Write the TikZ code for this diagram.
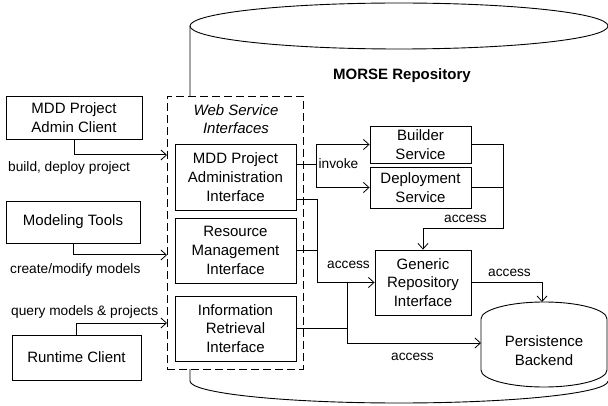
\documentclass[tikz,border=0pt]{standalone}
\usepackage{fontspec}
\setmainfont{Liberation Sans}
\usetikzlibrary{arrows.meta}
\begin{document}
\begin{tikzpicture}[x=1pt,y=-1pt,
  box/.style={draw,line width=0.9pt,fill=white,align=center,inner sep=0pt,font=\fontsize{15}{18.7}\selectfont},
  txt/.style={align=center,inner sep=0pt,font=\fontsize{15}{18.7}\selectfont},
  lbl/.style={anchor=base west,inner sep=0pt,font=\fontsize{13.7}{16}\selectfont},
  conn/.style={line width=1pt},
  arr/.style={conn,-{Straight Barb[length=5.5pt,width=10pt,line width=0.8pt]}},
  outline/.style={line width=0.9pt}
]
\useasboundingbox (0,0) rectangle (608,406);

% big repository cylinder
\draw[outline] (399,26) ellipse [x radius=209pt, y radius=23pt];
\draw[outline] (190,26) -- (190,381) arc[start angle=180,end angle=360,x radius=209pt,y radius=22pt];
\node[anchor=base,inner sep=0pt,font=\bfseries\fontsize{15}{18}\selectfont] (morse) at (402,79.3) {MORSE Repository};

% web service interfaces container
\node[draw,line width=0.9pt,dash pattern=on 8pt off 4pt,fill=white,minimum width=136pt,minimum height=273pt,inner sep=0pt] (wsi) at (235,232.5) {};
\node[txt,font=\itshape\fontsize{15}{18}\selectfont] (wsit) at (236,119.5) {Web Service\\Interfaces};

% clients
\node[box,minimum width=136pt,minimum height=43pt] (adminc) at (74,117.5) {MDD Project\\Admin Client};
\node[box,minimum width=134pt,minimum height=42pt] (modt) at (73,222) {Modeling Tools};
\node[box,minimum width=129pt,minimum height=45pt] (rtc) at (76.5,357.5) {Runtime Client};

% interfaces
\node[box,minimum width=121pt,minimum height=66pt] (mddai) at (235.5,177) {MDD Project\\Administration\\Interface};
\node[box,minimum width=121pt,minimum height=65pt] (rmi) at (235.5,250.5) {Resource\\Management\\Interface};
\node[box,minimum width=121pt,minimum height=65pt] (iri) at (235.5,328.5) {Information\\Retrieval\\Interface};

% services
\node[box,minimum width=101pt,minimum height=37pt] (builder) at (420.5,144.5) {Builder\\Service};
\node[box,minimum width=101pt,minimum height=41pt] (deploy) at (420.5,187.5) {Deployment\\Service};
\node[box,minimum width=96pt,minimum height=65pt] (generic) at (423,282.5) {Generic\\Repository\\Interface};

% persistence backend
\draw[outline,fill=white] (481,319) arc[start angle=180,end angle=0,x radius=63pt,y radius=17pt]
  -- (607,370) arc[start angle=0,end angle=-180,x radius=63pt,y radius=17pt] -- cycle;
\node[txt] (persist) at (544,350.3) {Persistence\\Backend};
\coordinate (ptop) at (542,302);
\coordinate (pleft) at (481,343);

% client connectors
\coordinate (c1) at (167,155);
\coordinate (c2) at (167,255);
\coordinate (c3) at (167,323);
\draw[arr] (adminc.south) |- (c1);
\draw[arr] (modt.south) |- (c2);
\draw[arr] (rtc.north) |- (c3);
\node[lbl] (l1) at (8,172) {build, deploy project};
\node[lbl] (l2) at (10,273.7) {create/modify models};
\node[lbl] (l3) at (11,315) {query models \& projects};

% invoke
\coordinate (inv) at (316,165);
\draw[conn] ([yshift=12pt]mddai.east) -- (inv);
\draw[arr] (inv) |- (builder.west);
\draw[arr] (inv) |- (deploy.west);
\node[lbl] (linv) at (318.5,168.3) {invoke};

% services to generic
\coordinate (bd) at (503,229);
\draw[conn] (builder.east) -| (bd);
\draw[conn] (deploy.east) -- (deploy.east -| bd);
\draw[arr] (bd) -| (generic.north);
\node[lbl] (la1) at (444,222.3) {access};

% interfaces to generic
\coordinate (acc2) at (317,282.5);
\draw[arr] ([yshift=-23pt]mddai.east) -| (acc2) -- (generic.west);
\draw[conn] (rmi.east) -- (rmi.east -| acc2);
\node[lbl] (la2) at (327,269) {access};

% information retrieval to persistence
\coordinate (j1) at (347,282.5);
\draw[conn] (iri.east) -- (iri.east -| j1);
\draw[arr] (j1) |- (pleft);
\node[lbl] (la3) at (391,360.3) {access};

% generic to persistence
\draw[arr] (generic.east) -| (ptop);
\node[lbl] (la4) at (488,276.3) {access};
\end{tikzpicture}
\end{document}
